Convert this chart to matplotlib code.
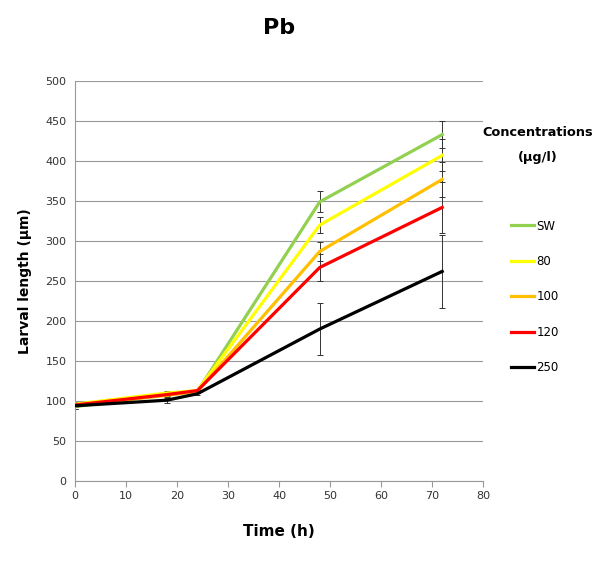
import matplotlib.pyplot as plt
import numpy as np
from matplotlib import font_manager

time_h = [0, 18, 24, 48, 72]
labels = ["SW", "80", "100", "120", "250"]
colors = ["#92D050", "#FFFF00", "#FFC000", "#FF0000", "#000000"]

sw = [93, 108, 112, 349, 433]
c80 = [96, 110, 113, 320, 407]
c100 = [95, 107, 112, 287, 377]
c120 = [95, 108, 113, 267, 342]
c250 = [94, 101, 109, 190, 262]

err_sw = [3, 2, 2, 13, 17]
err_80 = [3, 2, 2, 10, 20]
err_100 = [3, 2, 2, 12, 22]
err_120 = [3, 2, 2, 17, 32]
err_250 = [4, 3, 2, 32, 46]

series = [sw, c80, c100, c120, c250]
errors = [err_sw, err_80, err_100, err_120, err_250]

names = {f.name for f in font_manager.fontManager.ttflist}
narrow = "Liberation Sans Narrow" if "Liberation Sans Narrow" in names else "DejaVu Sans"

fig = plt.figure(figsize=(5.96, 5.72), dpi=100)
ax = fig.add_axes([75 / 596, 1 - 481 / 572, 408 / 596, 400 / 572])

for values, err in zip(series, errors):
    ax.errorbar(time_h, values, yerr=err, fmt="none", ecolor="#333333",
                elinewidth=0.7, capsize=2.5, capthick=0.7, zorder=2)
for values, color, label in zip(series, colors, labels):
    ax.plot(time_h, values, color=color, lw=2.3, label=label, zorder=3)

ax.set_xlim(0, 80)
ax.set_ylim(0, 500)
ax.set_xticks(np.arange(0, 81, 10))
ax.set_yticks(np.arange(0, 501, 50))
ax.yaxis.grid(True, color="#999999", lw=0.8)
ax.set_axisbelow(True)
for side in ["top", "right"]:
    ax.spines[side].set_visible(False)
for side in ["left", "bottom"]:
    ax.spines[side].set_color("#999999")
ax.tick_params(axis="y", length=0, labelsize=8, colors="#333333", pad=6)
ax.tick_params(axis="x", length=4, color="#999999", labelsize=8, colors="#333333")
for t in ax.get_xticklabels() + ax.get_yticklabels():
    t.set_family(narrow)

ax.set_title("Pb", fontsize=16, fontweight="bold", family=narrow, pad=34)
ax.set_ylabel("Larval length (µm)", fontsize=10, fontweight="bold", labelpad=10)
ax.set_xlabel("Time (h)", fontsize=11, fontweight="bold", family=narrow, labelpad=16)

leg = ax.legend(loc="upper left", bbox_to_anchor=(500 / 596, 1 - 209 / 572),
                bbox_transform=fig.transFigure, frameon=False,
                prop={"family": narrow, "size": 8.5},
                handlelength=2.0, handletextpad=0.2, labelspacing=1.9)
fig.text(538 / 596, 1 - 145 / 572, "Concentrations\n(µg/l)", ha="center", va="center",
         fontsize=9.3, fontweight="bold", family=narrow, linespacing=2.2)

fig.savefig("out.png", dpi=100)
